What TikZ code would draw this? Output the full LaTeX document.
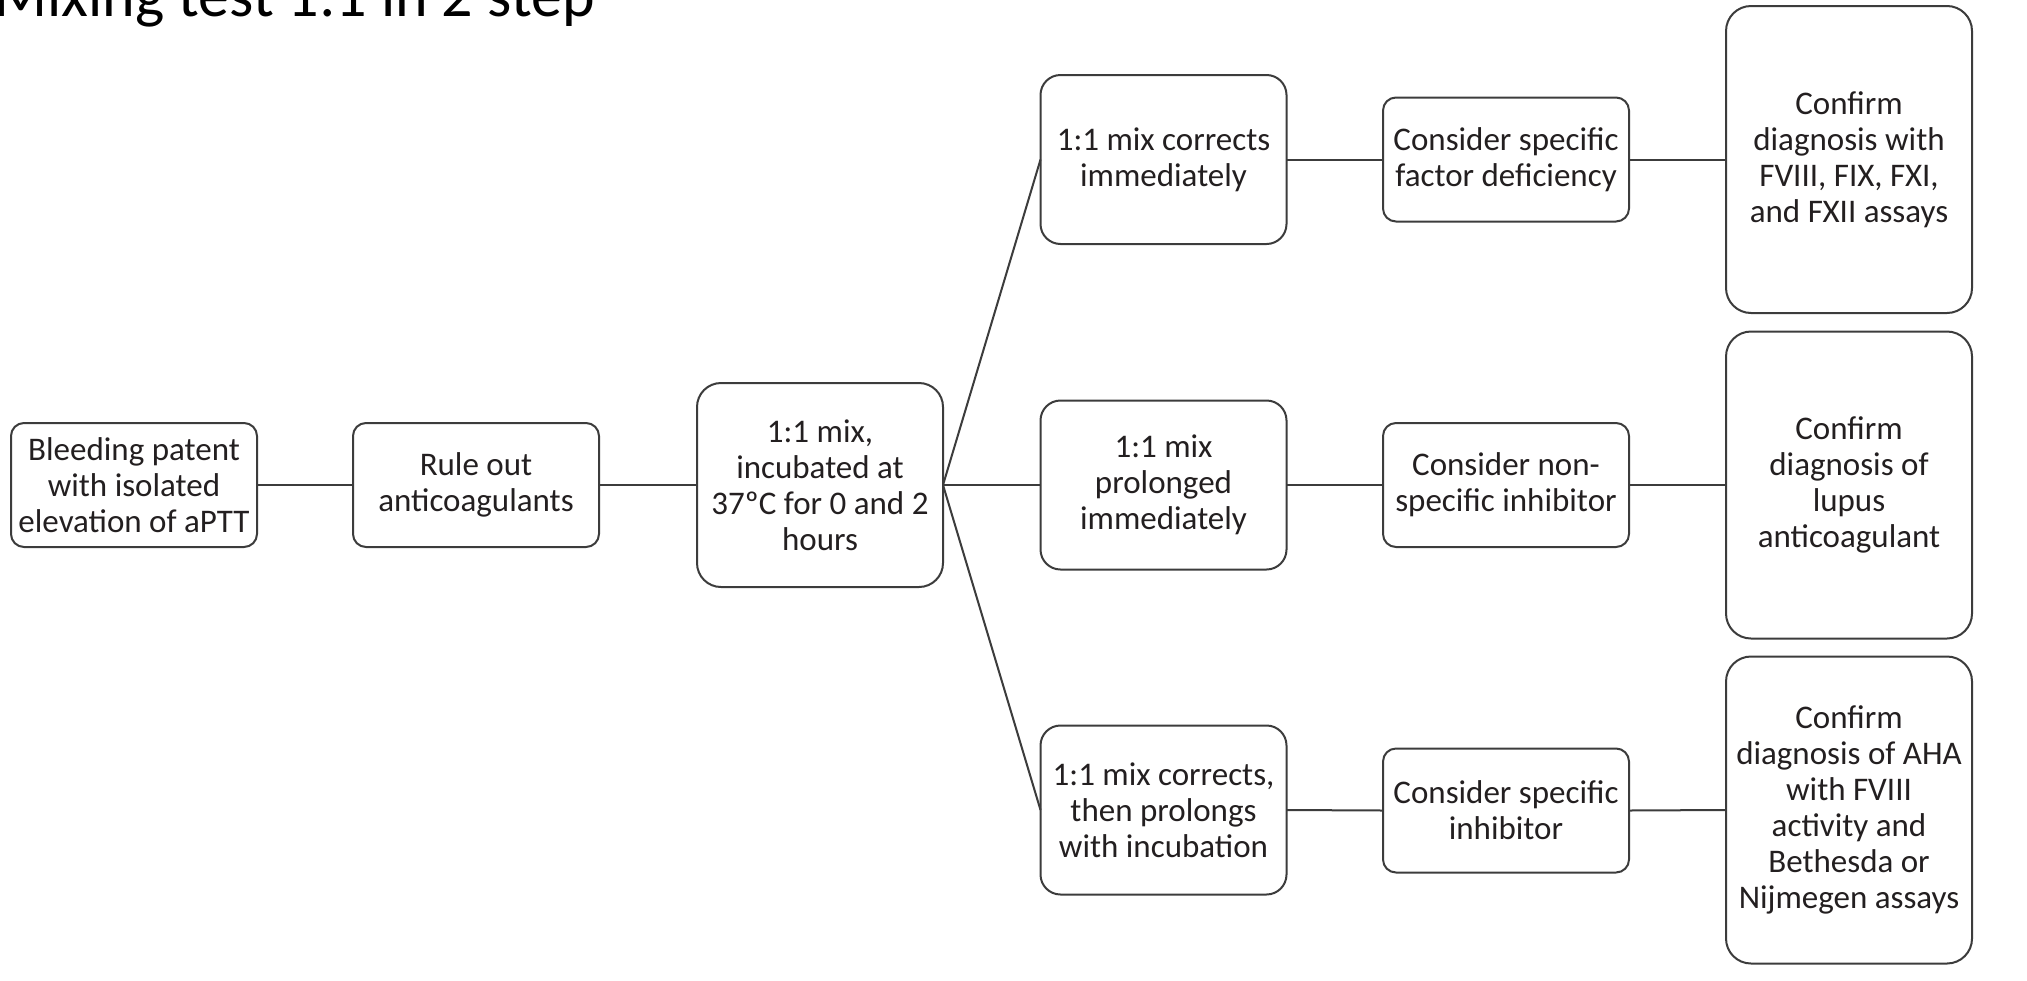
\documentclass[tikz,border=0pt]{standalone}
\usepackage{fontspec}
\setmainfont{Carlito}
\definecolor{edge}{HTML}{3C3C3C}
\definecolor{ink}{HTML}{231F20}
\tikzset{
  box/.style={draw=edge, line width=1pt, fill=white, align=center, text=ink,
    inner sep=0pt, outer sep=0pt, font=\fontsize{16.5}{18}\selectfont,
    minimum width=123pt},
  shortbox/.style={box, rounded corners=6.5pt, minimum height=62pt},
  midbox/.style={box, rounded corners=10pt, minimum height=84.5pt},
  squarebox/.style={box, rounded corners=12pt, minimum height=102pt},
  tallbox/.style={box, rounded corners=12.5pt, minimum height=153.5pt},
  link/.style={draw=edge, line width=1pt},
}
\begin{document}
\begin{tikzpicture}[x=0.5pt,y=-0.5pt]
  \clip (0,0) rectangle (2027,980);
  \fill[white] (0,0) rectangle (2027,980);

  % heading, partly cut off at the top edge
  \node[anchor=base west, inner sep=0pt, text=black,
        font=\fontsize{31}{36}\selectfont] (title) at (-6,16.5) {Mixing test 1:1 in 2 step};

  % first stage
  \node[shortbox] (bleed) at (134,485) {Bleeding patent\\with isolated\\elevation of aPTT};
  \node[shortbox] (rule) at (476,485) {Rule out\\anticoagulants};
  \node[squarebox] (mix) at (820,485) {1:1 mix,\\incubated at\\37ºC for 0 and 2\\hours};

  % mixing outcomes
  \node[midbox] (corr) at (1163.5,159.5) {1:1 mix corrects\\immediately};
  \node[midbox] (prol) at (1163.5,485) {1:1 mix\\prolonged\\immediately};
  \node[midbox] (late) at (1163.5,810) {1:1 mix corrects,\\then prolongs\\with incubation};

  % interpretation
  \node[shortbox] (fact) at (1506,159.5) {Consider specific\\factor deficiency};
  \node[shortbox] (nonspec) at (1506,485) {Consider non-\\specific inhibitor};
  \node[shortbox] (spec) at (1506,810.5) {Consider specific\\inhibitor};

  % confirmation
  \node[tallbox] (conf1) at (1849,159.5) {Confirm\\diagnosis with\\FVIII, FIX, FXI,\\and FXII assays};
  \node[tallbox] (conf2) at (1849,485) {Confirm\\diagnosis of\\lupus\\anticoagulant};
  \node[tallbox] (conf3) at (1849,810) {Confirm\\diagnosis of AHA\\with FVIII\\activity and\\Bethesda or\\Nijmegen assays};

  % connectors
  \draw[link] (bleed.east) -- (rule.west);
  \draw[link] (rule.east) -- (mix.west);
  \draw[link] (mix.east) -- (corr.west);
  \draw[link] (mix.east) -- (prol.west);
  \draw[link] (mix.east) -- (late.west);
  \draw[link] (corr.east) -- (fact.west);
  \draw[link] (prol.east) -- (nonspec.west);
  \draw[link] (late.east) -- (spec.west);
  \draw[link] (fact.east) -- (conf1.west);
  \draw[link] (nonspec.east) -- (conf2.west);
  \draw[link] (spec.east) -- (conf3.west);
\end{tikzpicture}
\end{document}
